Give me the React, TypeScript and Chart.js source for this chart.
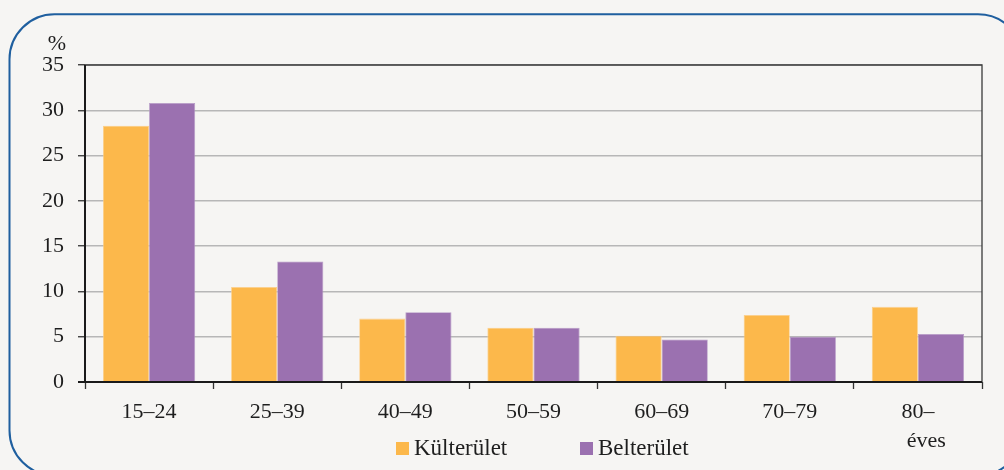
import React, { useEffect, useRef } from "react";
import { Chart, registerables } from "chart.js";

Chart.register(...registerables);

// ---- data ----
const categories: (string | string[])[] = [
  "15–24",
  "25–39",
  "40–49",
  "50–59",
  "60–69",
  "70–79",
  ["80–", "   éves"],
];
const kulterulet = [28.3, 10.5, 7.0, 6.0, 5.1, 7.4, 8.3];
const belterulet = [30.8, 13.3, 7.7, 6.0, 4.7, 5.0, 5.3];
const seriesNames = ["Külterület", "Belterület"];
const yMin = 0;
const yMax = 35;
const yStep = 5;
const yUnit = "%";

// ---- styles ----
const FONT = "'Liberation Serif', 'Times New Roman', serif";
const ORANGE = "#fcb84b";
const PURPLE = "#9b71b0";
const BG = "#f6f5f3";
const TEXT = "#1e1e1e";

const decorPlugin = {
  id: "decor",
  beforeDraw(chart: any) {
    const { ctx, width, height } = chart;
    ctx.save();
    ctx.fillStyle = BG;
    ctx.fillRect(0, 0, width, height);
    // rounded card border
    const x0 = 9.5, y0 = 14.3, x1 = 1023, y1 = 475.5, r = 45;
    ctx.beginPath();
    ctx.moveTo(x0 + r, y0);
    ctx.lineTo(x1 - r, y0);
    ctx.arcTo(x1, y0, x1, y0 + r, r);
    ctx.lineTo(x1, y1 - r);
    ctx.arcTo(x1, y1, x1 - r, y1, r);
    ctx.lineTo(x0 + r, y1);
    ctx.arcTo(x0, y1, x0, y1 - r, r);
    ctx.lineTo(x0, y0 + r);
    ctx.arcTo(x0, y0, x0 + r, y0, r);
    ctx.closePath();
    ctx.strokeStyle = "#1f5f9f";
    ctx.lineWidth = 2;
    ctx.stroke();
    ctx.restore();
  },
  afterDatasetsDraw(chart: any) {
    const { ctx, chartArea } = chart;
    const { left, right, top, bottom } = chartArea;
    ctx.save();
    ctx.strokeStyle = "#3a3a3a";
    ctx.lineWidth = 1.3;
    ctx.beginPath();
    ctx.moveTo(left, top);
    ctx.lineTo(right, top);
    ctx.lineTo(right, bottom);
    ctx.stroke();
    ctx.strokeStyle = "#1a1a1a";
    ctx.lineWidth = 2;
    ctx.beginPath();
    ctx.moveTo(left, top);
    ctx.lineTo(left, bottom + 1);
    ctx.moveTo(left - 7, bottom);
    ctx.lineTo(right, bottom);
    ctx.stroke();
    ctx.restore();
  },
  afterDraw(chart: any) {
    const { ctx, chartArea } = chart;
    ctx.save();
    ctx.fillStyle = TEXT;
    ctx.font = `22px ${FONT}`;
    ctx.textAlign = "center";
    ctx.textBaseline = "alphabetic";
    ctx.fillText(yUnit, chartArea.left - 28, chartArea.top - 15);

    // legend
    const colors = [ORANGE, PURPLE];
    const starts = [396, 580];
    ctx.font = `23px ${FONT}`;
    ctx.textAlign = "left";
    seriesNames.forEach((name, i) => {
      ctx.fillStyle = colors[i];
      ctx.fillRect(starts[i], 442, 13, 13);
      ctx.fillStyle = TEXT;
      ctx.fillText(name, starts[i] + 18, 455);
    });
    ctx.restore();
  },
};

export default function App() {
  const ref = useRef<HTMLCanvasElement | null>(null);

  useEffect(() => {
    if (!ref.current) return;
    const chart = new Chart(ref.current, {
      type: "bar",
      data: {
        labels: categories as any,
        datasets: [
          {
            label: seriesNames[0],
            data: kulterulet,
            backgroundColor: ORANGE,
            borderColor: "#fdd08a",
            borderWidth: 0.8,
            categoryPercentage: 0.72,
            barPercentage: 1,
          },
          {
            label: seriesNames[1],
            data: belterulet,
            backgroundColor: PURPLE,
            borderColor: "#b79bc7",
            borderWidth: 0.8,
            categoryPercentage: 0.72,
            barPercentage: 1,
          },
        ],
      },
      options: {
        responsive: false,
        animation: false,
        events: [],
        layout: { padding: { left: 0, right: 22, top: 65, bottom: 0 } },
        plugins: {
          legend: { display: false },
          tooltip: { enabled: false },
          title: { display: false },
        },
        scales: {
          x: {
            offset: true,
            afterFit: (s: any) => {
              s.height = 88;
            },
            grid: {
              offset: true,
              drawOnChartArea: false,
              drawTicks: true,
              tickLength: 7,
              tickColor: "#333",
              tickWidth: 1.3,
            },
            border: { display: false },
            ticks: {
              color: TEXT,
              font: { family: FONT, size: 22, lineHeight: 1.3 },
              padding: 9,
              maxRotation: 0,
              autoSkip: false,
            },
          },
          y: {
            min: yMin,
            max: yMax,
            afterFit: (s: any) => {
              s.width = 85;
            },
            grid: {
              color: "#b7b7b7",
              lineWidth: 1.5,
              drawTicks: true,
              tickLength: 7,
              tickColor: "#333",
              tickWidth: 1.3,
            },
            border: { display: false },
            ticks: {
              stepSize: yStep,
              color: TEXT,
              font: { family: FONT, size: 22 },
              padding: 14,
            },
          },
        },
      },
      plugins: [decorPlugin],
    });
    return () => chart.destroy();
  }, []);

  return (
    <div
      style={{
        position: "fixed",
        left: 0,
        top: 0,
        width: 1004,
        height: 470,
        background: BG,
      }}
    >
      <canvas ref={ref} width={1004} height={470} style={{ display: "block" }} />
    </div>
  );
}
